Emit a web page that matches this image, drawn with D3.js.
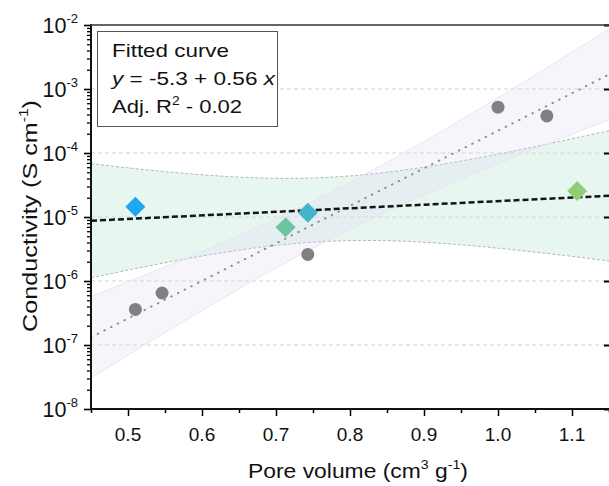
<!DOCTYPE html>
<html>
  <head>
    <meta charset="UTF-8" />
    <script src="https://cdnjs.cloudflare.com/ajax/libs/d3/7.8.5/d3.min.js"></script>
    <style>
      body { margin: 0; background: #fff; }
      text { font-family: "Liberation Sans", Arial, sans-serif; fill: #111; }
    </style>
  </head>
  <body>
    <svg id="chart" width="609" height="486"></svg>
    <script>
      // samples without ionic additive (grey circles)
      const circleX = [0.51, 0.546, 0.743, 1.0, 1.066];
      const circleY = [3.6e-7, 6.5e-7, 2.6e-6, 5.2e-4, 3.8e-4];

      // diamonds (fitted set)
      const diamondX = [0.51, 0.713, 0.743, 1.107];
      const diamondY = [1.45e-5, 6.9e-6, 1.17e-5, 2.55e-5];
      const diamondColors = ["#1ea8f0", "#6cc4a3", "#41b5c9", "#8fcf78"];

      const xTicks = [0.5, 0.6, 0.7, 0.8, 0.9, 1.0, 1.1];
      const yExponents = [-8, -7, -6, -5, -4, -3, -2];
      const legendLines = ["Fitted curve", "y = -5.3 + 0.56 x", "Adj. R2 - 0.02"];

      // t-quantiles used for the confidence bands
      const tDiamond = 4.303,
        tCircle = 2.353;

      const svg = d3.select("#chart");
      const mLeft = 91, mRight = 609, mTop = 25, mBottom = 409;

      const x = d3.scaleLinear().domain([0.45, 1.15]).range([mLeft, mRight]);
      const y = d3.scaleLog().domain([1e-8, 1e-2]).range([mBottom, mTop]);

      function fit(xs, ys) {
        const ly = ys.map(v => Math.log10(v));
        const n = xs.length,
          mx = d3.mean(xs),
          my = d3.mean(ly);
        const sxx = d3.sum(xs, v => (v - mx) ** 2);
        const sxy = d3.sum(xs, (v, i) => (v - mx) * (ly[i] - my));
        const b = sxy / sxx,
          a = my - b * mx;
        const sse = d3.sum(xs, (v, i) => (ly[i] - (a + b * v)) ** 2);
        const s = Math.sqrt(sse / (n - 2));
        return { a, b, n, mx, sxx, s };
      }

      function band(f, t) {
        return d3.range(0.45, 1.1501, 0.01).map(v => {
          const c = f.a + f.b * v;
          const hw = t * f.s * Math.sqrt(1 / f.n + (v - f.mx) ** 2 / f.sxx);
          return { x: v, lo: Math.pow(10, c - hw), hi: Math.pow(10, c + hw) };
        });
      }

      svg.append("defs").append("clipPath").attr("id", "plot")
        .append("rect").attr("x", mLeft).attr("y", mTop)
        .attr("width", mRight - mLeft).attr("height", mBottom - mTop);

      // grid lines
      svg.append("g").selectAll("line")
        .data(yExponents.slice(1, -1))
        .join("line")
        .attr("x1", mLeft).attr("x2", mRight)
        .attr("y1", e => y(Math.pow(10, e))).attr("y2", e => y(Math.pow(10, e)))
        .attr("stroke", "#d2d2d2").attr("stroke-dasharray", "4,3");

      const plot = svg.append("g").attr("clip-path", "url(#plot)");

      const fC = fit(circleX, circleY),
        fD = fit(diamondX, diamondY);
      const bandC = band(fC, tCircle),
        bandD = band(fD, tDiamond);

      const area = d3.area().x(d => x(d.x)).y0(d => y(d.lo)).y1(d => y(d.hi));
      const edge = key => d3.line().x(d => x(d.x)).y(d => y(d[key]));

      plot.append("path").attr("d", area(bandD))
        .attr("fill", "#c9eadc").attr("fill-opacity", 0.42);
      ["lo", "hi"].forEach(k =>
        plot.append("path").attr("d", edge(k)(bandD))
          .attr("fill", "none").attr("stroke", "#b5b5b5").attr("stroke-width", 1)
          .attr("stroke-dasharray", "3,2"));

      plot.append("path").attr("d", area(bandC))
        .attr("fill", "#dcd9ee").attr("fill-opacity", 0.26);
      ["lo", "hi"].forEach(k =>
        plot.append("path").attr("d", edge(k)(bandC))
          .attr("fill", "none").attr("stroke", "#e8e6f0").attr("stroke-width", 1));

      // fit lines
      const fitLine = f => d3.line()
        .x(v => x(v))
        .y(v => y(Math.pow(10, f.a + f.b * v)))([0.45, 1.15]);

      plot.append("path").attr("d", fitLine(fC))
        .attr("fill", "none").attr("stroke", "#8d8d8d").attr("stroke-width", 2)
        .attr("stroke-linecap", "round").attr("stroke-dasharray", "0.5,7");

      // points
      plot.selectAll("circle.pt")
        .data(circleX)
        .join("circle")
        .attr("class", "pt")
        .attr("cx", d => x(d))
        .attr("cy", (d, i) => y(circleY[i]))
        .attr("r", 6.5)
        .attr("fill", "#808080");

      plot.append("path").attr("d", fitLine(fD))
        .attr("fill", "none").attr("stroke", "#151515").attr("stroke-width", 2.5)
        .attr("stroke-dasharray", "6,3");

      plot.selectAll("path.dia")
        .data(diamondX)
        .join("path")
        .attr("class", "dia")
        .attr("d", d3.symbol().type(d3.symbolSquare).size(200))
        .attr("transform", (d, i) => `translate(${x(d)},${y(diamondY[i])}) rotate(45)`)
        .attr("fill", (d, i) => diamondColors[i]);

      // axes
      const xAxis = svg.append("g").attr("transform", `translate(0,${mBottom})`)
        .call(d3.axisBottom(x).tickValues(d3.range(0.45, 1.151, 0.05).map(v => +v.toFixed(2)))
          .tickSize(4).tickFormat(""));
      xAxis.selectAll(".tick line").attr("stroke-width", 1.5)
        .filter(d => xTicks.some(t => Math.abs(t - d) < 1e-6)).attr("y2", 7);
      xAxis.select(".domain").remove();

      svg.append("g").selectAll("text")
        .data(xTicks)
        .join("text")
        .attr("x", d => x(d)).attr("y", 441)
        .attr("text-anchor", "middle").attr("font-size", 19)
        .text(d => d.toFixed(1));

      const minor = [];
      yExponents.forEach(e => {
        if (e < -2) d3.range(2, 10).forEach(m => minor.push(m * Math.pow(10, e)));
      });

      const yAxis = svg.append("g").attr("transform", `translate(${mLeft},0)`)
        .call(d3.axisLeft(y).tickValues(minor).tickSize(4).tickFormat(""));
      yAxis.select(".domain").remove();
      yAxis.selectAll(".tick line").attr("stroke-width", 1.3);
      svg.append("g").attr("transform", `translate(${mLeft},0)`)
        .call(d3.axisLeft(y).tickValues(yExponents.map(e => Math.pow(10, e))).tickSize(7).tickFormat(""))
        .call(g => g.select(".domain").remove())
        .selectAll(".tick line").attr("stroke-width", 1.6);

      // right axis ticks (axis line sits at the window edge)
      svg.append("g").attr("transform", `translate(${mRight + 1},0)`)
        .call(d3.axisLeft(y).tickValues(yExponents.map(e => Math.pow(10, e))).tickSize(6).tickFormat(""))
        .call(g => g.select(".domain").remove())
        .selectAll(".tick line").attr("stroke-width", 2);

      svg.append("line").attr("x1", mLeft).attr("x2", mLeft).attr("y1", mTop - 1).attr("y2", mBottom + 1)
        .attr("stroke", "#111").attr("stroke-width", 2);
      svg.append("line").attr("x1", mLeft - 1).attr("x2", mRight).attr("y1", mBottom).attr("y2", mBottom)
        .attr("stroke", "#111").attr("stroke-width", 2);
      svg.append("line").attr("x1", mLeft - 1).attr("x2", mRight).attr("y1", mTop).attr("y2", mTop)
        .attr("stroke", "#333").attr("stroke-width", 1.6);

      const yl = svg.append("g").selectAll("text")
        .data(yExponents)
        .join("text")
        .attr("x", 78).attr("y", e => y(Math.pow(10, e)) + 8)
        .attr("text-anchor", "end").attr("font-size", 21.5);
      yl.append("tspan").text("10");
      yl.append("tspan").attr("font-size", 13).attr("dy", -10).text(e => e);

      // axis titles
      const xt = svg.append("text").attr("x", 358).attr("y", 478)
        .attr("text-anchor", "middle").attr("font-size", 21)
        .attr("textLength", 220).attr("lengthAdjust", "spacingAndGlyphs");
      xt.append("tspan").text("Pore volume (cm");
      xt.append("tspan").attr("font-size", 13).attr("dy", -9).text("3");
      xt.append("tspan").attr("dy", 9).text(" g");
      xt.append("tspan").attr("font-size", 13).attr("dy", -9).text("-1");
      xt.append("tspan").attr("dy", 9).text(")");

      const yt = svg.append("text")
        .attr("transform", "translate(37,216) rotate(-90)")
        .attr("text-anchor", "middle").attr("font-size", 21)
        .attr("textLength", 232).attr("lengthAdjust", "spacingAndGlyphs");
      yt.append("tspan").text("Conductivity (S cm");
      yt.append("tspan").attr("font-size", 13).attr("dy", -9).text("-1");
      yt.append("tspan").attr("dy", 9).text(")");

      // legend box
      const lg = svg.append("g");
      lg.append("rect").attr("x", 97.5).attr("y", 31.5).attr("width", 180).attr("height", 95)
        .attr("fill", "#fff").attr("stroke", "#555").attr("stroke-width", 1);
      lg.append("text").attr("x", 112).attr("y", 57).attr("font-size", 19)
        .attr("textLength", 117).attr("lengthAdjust", "spacingAndGlyphs").text(legendLines[0]);
      const l2 = lg.append("text").attr("x", 112).attr("y", 85).attr("font-size", 19)
        .attr("textLength", 163).attr("lengthAdjust", "spacingAndGlyphs");
      l2.append("tspan").attr("font-style", "italic").text("y");
      l2.append("tspan").text(legendLines[1].slice(1, -1));
      l2.append("tspan").attr("font-style", "italic").text("x");
      const l3 = lg.append("text").attr("x", 112).attr("y", 113).attr("font-size", 19)
        .attr("textLength", 130).attr("lengthAdjust", "spacingAndGlyphs");
      l3.append("tspan").text("Adj. R");
      l3.append("tspan").attr("font-size", 12).attr("dy", -8).text("2");
      l3.append("tspan").attr("dy", 8).text(legendLines[2].slice(7));
    </script>
  </body>
</html>
